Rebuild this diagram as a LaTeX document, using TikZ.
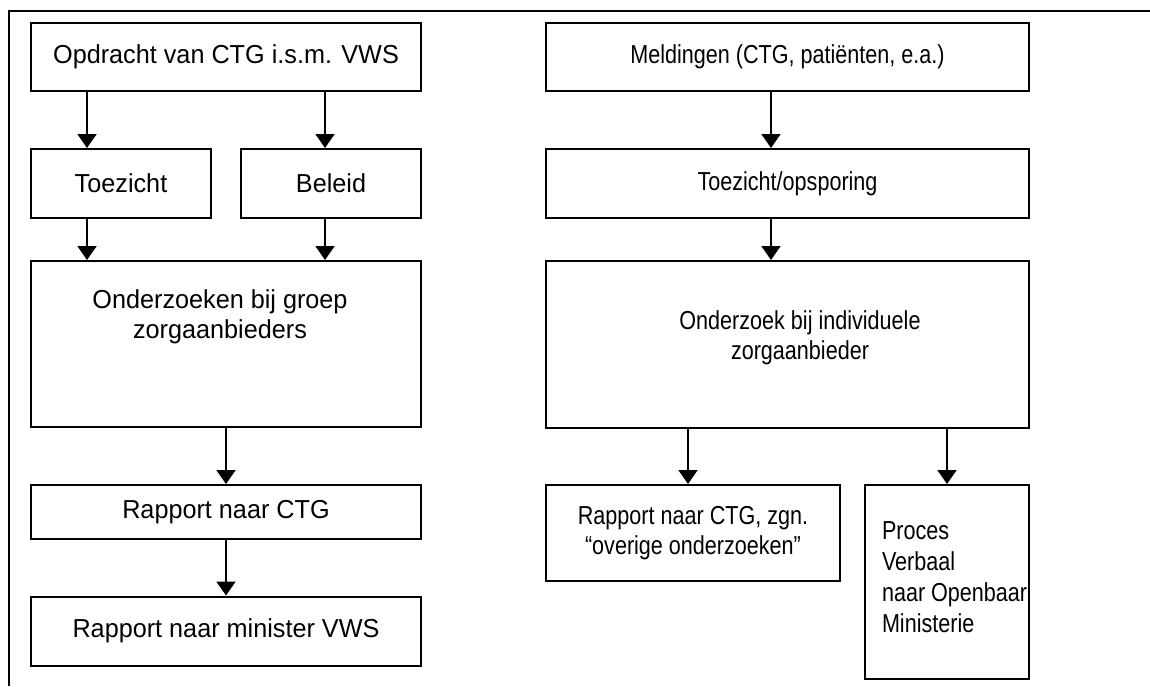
\documentclass[tikz,border=0pt]{standalone}
\usepackage{fontspec}
\setmainfont{Liberation Sans}
\newfontfamily\linksfont[FakeStretch=0.97]{Liberation Sans}
\newfontfamily\smalfont[FakeStretch=0.83]{Liberation Sans}
\usetikzlibrary{arrows.meta}

\begin{document}
\begin{tikzpicture}[x=0.5pt, y=-0.5pt, line width=1pt,
    >={Triangle[width=9.5pt,length=7pt]},
    blok/.style={draw, inner sep=0pt, align=center,
      font=\linksfont\fontsize{13pt}{15pt}\selectfont},
    rblok/.style={blok, font=\smalfont\fontsize{13pt}{15pt}\selectfont},
    tekst/.style={inner sep=0pt, align=center,
      font=\linksfont\fontsize{13pt}{15pt}\selectfont},
    rtekst/.style={tekst, font=\smalfont\fontsize{13pt}{15pt}\selectfont}]
  \useasboundingbox (0,0) rectangle (1150,686);
  \draw (9,686) -- (9,11) -- (1150,11);

  % linker kolom
  \node[blok, minimum width=195pt, minimum height=34pt] (opdracht) at (226,57)
    {Opdracht van CTG i.s.m. VWS};
  \node[blok, minimum width=90pt, minimum height=34.5pt] (toezicht) at (121,183.5) {Toezicht};
  \node[blok, minimum width=90pt, minimum height=34.5pt] (beleid) at (331,183.5) {Beleid};
  \node[blok, minimum width=195pt, minimum height=83pt] (groep) at (226,344) {};
  \node[tekst] (groeptekst) at (220,317) {Onderzoeken bij groep\\zorgaanbieders};
  \node[blok, minimum width=195pt, minimum height=27pt] (rapctg) at (226,512) {Rapport naar CTG};
  \node[blok, minimum width=195pt, minimum height=34.5pt] (minister) at (226,631)
    {Rapport naar minister VWS};

  % rechter kolom
  \node[rblok, minimum width=241.5pt, minimum height=34pt] (meldingen) at (787.5,57)
    {Meldingen (CTG, patiënten, e.a.)};
  \node[rblok, minimum width=241.5pt, minimum height=34.5pt] (opsporing) at (787.5,183.5)
    {Toezicht/opsporing};
  \node[rblok, minimum width=241.5pt, minimum height=83.5pt] (individueel) at (787.5,344.5) {};
  \node[rtekst] (indtekst) at (800,338) {Onderzoek bij individuele\\zorgaanbieder};
  \node[rblok, minimum width=147pt, minimum height=48pt] (overige) at (693,533)
    {Rapport naar CTG, zgn.\\“overige onderzoeken”};
  \node[rblok, minimum width=82pt, minimum height=97pt] (proces) at (947,582) {};
  \node[rtekst, align=left, anchor=west, font=\smalfont\fontsize{13pt}{15.5pt}\selectfont]
    (procestekst) at (881,577) {Proces\\Verbaal\\naar Openbaar\\Ministerie};

  \coordinate (pijlA) at (87,0);
  \coordinate (pijlB) at (325,0);
  \coordinate (pijlC) at (771,0);
  \coordinate (pijlD) at (688,0);

  \draw[->] (pijlA |- opdracht.south) -- (pijlA |- toezicht.north);
  \draw[->] (pijlB |- opdracht.south) -- (pijlB |- beleid.north);
  \draw[->] (pijlA |- toezicht.south) -- (pijlA |- groep.north);
  \draw[->] (pijlB |- beleid.south) -- (pijlB |- groep.north);
  \draw[->] (groep) -- (rapctg);
  \draw[->] (rapctg) -- (minister);

  \draw[->] (pijlC |- meldingen.south) -- (pijlC |- opsporing.north);
  \draw[->] (pijlC |- opsporing.south) -- (pijlC |- individueel.north);
  \draw[->] (pijlD |- individueel.south) -- (pijlD |- overige.north);
  \draw[->] (proces |- individueel.south) -- (proces);
\end{tikzpicture}
\end{document}
